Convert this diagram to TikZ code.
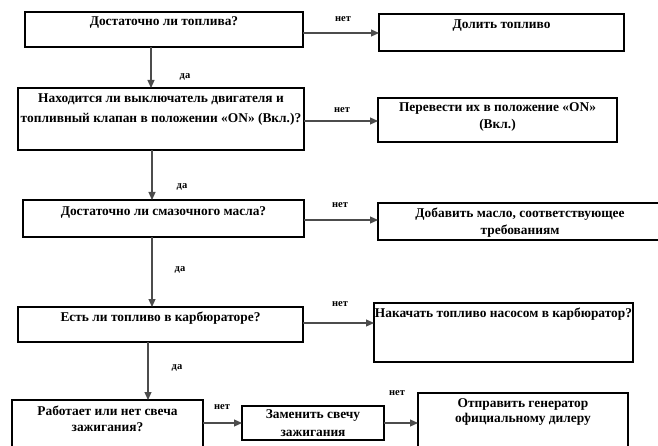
\documentclass[tikz,border=0pt]{standalone}
\usepackage{fontspec}
\setmainfont{Liberation Serif}
\usetikzlibrary{arrows.meta}
\tikzset{
  fbox/.style={draw=black, line width=1.8pt, inner sep=0pt, outer sep=0pt,
    font=\bfseries\fontsize{13.4}{16}\selectfont},
  arr/.style={draw=black!70, line width=1.1pt, -{Triangle[length=8pt,width=7pt]}},
  lbl/.style={font=\bfseries\fontsize{10.5}{12}\selectfont, inner sep=0pt}
}
\newcommand\fbx[8]{%
  \node[fbox, anchor=north west] (#1) at (#2,#3)
  {\parbox[t][\dimexpr#5pt-#3pt\relax][t]{\dimexpr#4pt-#2pt\relax}{\centering\baselineskip=#7pt\relax\rule{0pt}{#6pt}#8\par}};}
\begin{document}
\begin{tikzpicture}[x=1pt,y=-1pt]
\useasboundingbox (0,0) rectangle (658,446);
\fbx{b1}{25}{12}{303}{47}{14}{16}{Достаточно ли топлива?}
\fbx{b2}{379}{14}{624}{51}{15}{16}{Долить топливо}
\fbx{b3}{18}{88}{304}{150}{15}{20}{Находится ли выключатель двигателя и\\топливный клапан в положении «ON» (Вкл.)?}
\fbx{b4}{378}{98}{617}{142}{14}{17}{Перевести их в положение «ON»\\(Вкл.)}
\fbx{b5}{23}{200}{304}{237}{16}{16}{Достаточно ли смазочного масла?}
\fbx{b6}{378}{203}{662}{240}{15}{17}{Добавить масло, соответствующее\\требованиям}
\fbx{b7}{18}{307}{303}{342}{14}{16}{Есть ли топливо в карбюраторе?}
\fbx{b8}{374}{303}{633}{362}{14}{16}{Накачать топливо насосом в карбюратор?}
\fbx{b9}{12}{400}{203}{470}{15}{16}{Работает или нет свеча\\зажигания?}
\fbx{b10}{242}{406}{384}{440}{12}{18}{Заменить свечу\\зажигания}
\fbx{b11}{418}{393}{628}{470}{14}{15}{Отправить генератор\\официальному дилеру}

\draw[arr] (b1.east |- 0,33) -- (b2.west |- 0,33);
\draw[arr] (b1.south -| 151,0) -- (b3.north -| 151,0);
\draw[arr] (b3.east |- 0,121) -- (b4.west |- 0,121);
\draw[arr] (b3.south -| 152,0) -- (b5.north -| 152,0);
\draw[arr] (b5.east |- 0,220) -- (b6.west |- 0,220);
\draw[arr] (b5.south -| 152,0) -- (b7.north -| 152,0);
\draw[arr] (b7.east |- 0,323) -- (b8.west |- 0,323);
\draw[arr] (b7.south -| 148,0) -- (b9.north -| 148,0);
\draw[arr] (b9.east |- 0,423) -- (b10.west |- 0,423);
\draw[arr] (b10.east |- 0,423) -- (b11.west |- 0,423);

\node[lbl] (n1) at (343,19) {нет};
\node[lbl] (d1) at (185,77) {да};
\node[lbl] (n2) at (342,110) {нет};
\node[lbl] (d2) at (182,187) {да};
\node[lbl] (n3) at (340,205) {нет};
\node[lbl] (d3) at (180,270) {да};
\node[lbl] (n4) at (340,304) {нет};
\node[lbl] (d4) at (177,368) {да};
\node[lbl] (n5) at (222,407) {нет};
\node[lbl] (n6) at (397,393) {нет};
\end{tikzpicture}
\end{document}
